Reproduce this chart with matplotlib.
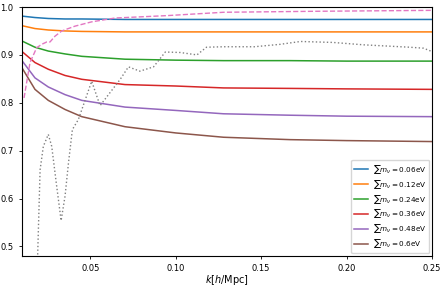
import matplotlib

matplotlib.use("Agg")
import matplotlib.pyplot as plt

# solid curves, one per neutrino mass sum
k_solid = [0.010, 0.0176, 0.0254, 0.0352, 0.045, 0.0703, 0.10, 0.128, 0.167, 0.20, 0.25]
r_006 = [0.981, 0.978, 0.976, 0.975, 0.975, 0.974, 0.974, 0.974, 0.974, 0.974, 0.974]
r_012 = [0.961, 0.955, 0.952, 0.950, 0.949, 0.948, 0.948, 0.948, 0.948, 0.948, 0.948]
r_024 = [0.929, 0.916, 0.908, 0.902, 0.897, 0.891, 0.889, 0.888, 0.888, 0.887, 0.887]
r_036 = [0.907, 0.884, 0.870, 0.857, 0.849, 0.838, 0.835, 0.831, 0.830, 0.829, 0.828]
r_048 = [0.888, 0.852, 0.833, 0.817, 0.805, 0.791, 0.784, 0.777, 0.774, 0.772, 0.771]
r_060 = [0.873, 0.828, 0.805, 0.786, 0.771, 0.750, 0.737, 0.728, 0.723, 0.721, 0.719]
labels = ["0.06", "0.12", "0.24", "0.36", "0.48", "0.6"]

# pink dashed
k_pink = [0.0112, 0.0147, 0.0186, 0.0215, 0.0245, 0.0264, 0.0293, 0.0333, 0.041,
          0.0508, 0.0645, 0.0948, 0.128, 0.18, 0.25]
r_pink = [0.81, 0.884, 0.915, 0.922, 0.927, 0.927, 0.939, 0.950, 0.960,
          0.969, 0.977, 0.982, 0.989, 0.991, 0.993]

# grey dotted
k_grey = [0.019, 0.0206, 0.0225, 0.0254, 0.0274, 0.0303, 0.0329, 0.0352, 0.0372,
          0.0395, 0.043, 0.0508, 0.0557, 0.0675, 0.0723, 0.079, 0.087, 0.0939,
          0.1026, 0.1124, 0.118, 0.128, 0.146, 0.161, 0.173, 0.192, 0.21, 0.237,
          0.245, 0.25]
r_grey = [0.46, 0.66, 0.709, 0.734, 0.709, 0.626, 0.554, 0.605, 0.674,
          0.744, 0.765, 0.845, 0.794, 0.849, 0.875, 0.866, 0.875, 0.906,
          0.905, 0.900, 0.916, 0.917, 0.917, 0.922, 0.928, 0.926, 0.921, 0.916,
          0.914, 0.907]

plt.rcParams["font.size"] = 6

fig = plt.figure(figsize=(4.46, 2.87), dpi=100)
ax = fig.add_axes([0.0493, 0.108, 0.9193, 0.8676])

for vals, lab in zip([r_006, r_012, r_024, r_036, r_048, r_060], labels):
    ax.plot(k_solid, vals, lw=1.1, label=r"$\sum m_\nu = %s$eV" % lab)
ax.plot(k_pink, r_pink, ls="--", color="#e377c2", lw=1.0)
ax.plot(k_grey, r_grey, ls=":", color="grey", lw=1.0)

ax.set_xlim(0.01, 0.25)
ax.set_ylim(0.48, 1.0)
ax.set_xticks([0.05, 0.10, 0.15, 0.20, 0.25])
ax.set_yticks([0.5, 0.6, 0.7, 0.8, 0.9, 1.0])
ax.tick_params(labelsize=6, length=2.5, width=0.6)
ax.set_xlabel(r"$k[h/{\rm Mpc}]$", fontsize=7, labelpad=0)
ax.legend(loc="lower right", fontsize=5.2, handlelength=2.0, borderaxespad=0.4,
          labelspacing=0.28, handletextpad=0.6)

fig.savefig("out.png", dpi=100)
